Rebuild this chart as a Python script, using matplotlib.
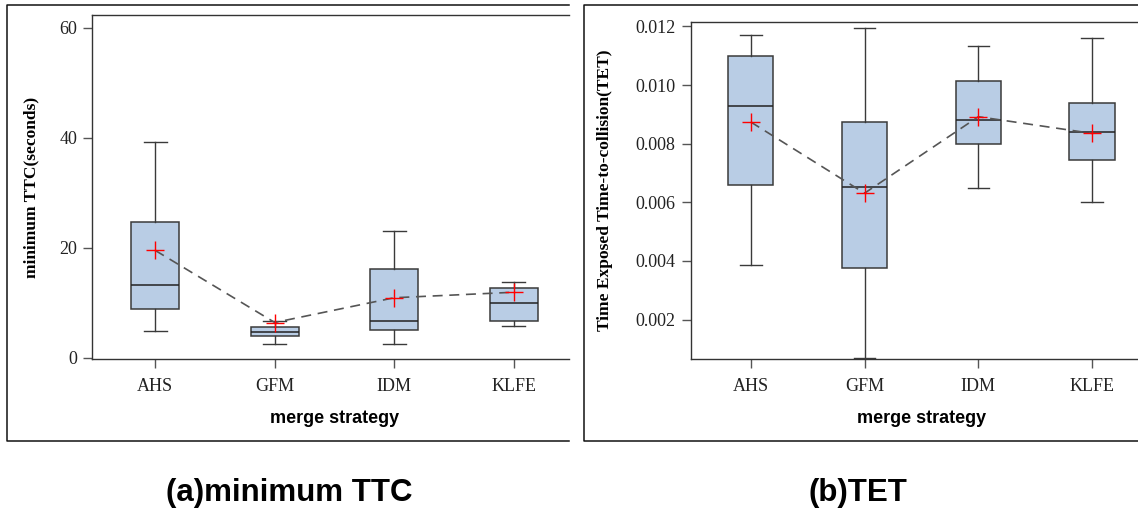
import matplotlib
matplotlib.use("Agg")
import matplotlib.pyplot as plt
from matplotlib.lines import Line2D

# categories and box statistics
strategies = ['AHS', 'GFM', 'IDM', 'KLFE']

ttc_low = [4.8, 2.5, 2.5, 5.8]
ttc_q1 = [8.8, 3.9, 5.0, 6.6]
ttc_med = [13.2, 4.6, 6.6, 9.9]
ttc_q3 = [24.6, 5.5, 16.2, 12.7]
ttc_high = [39.2, 6.7, 23.0, 13.8]
ttc_mean = [19.5, 6.4, 10.9, 11.9]

tet_low = [0.00386, 0.00070, 0.00649, 0.00602]
tet_q1 = [0.00659, 0.00375, 0.00798, 0.00744]
tet_med = [0.00928, 0.00652, 0.00880, 0.00841]
tet_q3 = [0.01100, 0.00875, 0.01015, 0.00940]
tet_high = [0.01169, 0.01193, 0.01132, 0.01160]
tet_mean = [0.00874, 0.00631, 0.00892, 0.00835]

W, H = 1138, 511
fig = plt.figure(figsize=(W / 100, H / 100), dpi=100)

serif = 'Liberation Serif'
sans = 'Liberation Sans'
box_face = '#B9CDE5'
dark = '#3a3a3a'


def make_stats(low, q1, med, q3, high):
    return [dict(whislo=a, q1=b, med=c, q3=d, whishi=e, fliers=[])
            for a, b, c, d, e in zip(low, q1, med, q3, high)]


def draw_panel(rect, stats, means, xlim, ylim, yticks, yfmt, ylabel,
               ylab_x, xlab_x, xlab_y):
    ax = fig.add_axes(rect)
    pos = list(range(1, len(strategies) + 1))
    ax.bxp(stats, positions=pos, widths=0.4, capwidths=0.19,
           patch_artist=True, manage_ticks=False,
           boxprops=dict(facecolor=box_face, edgecolor=dark, linewidth=1.1),
           medianprops=dict(color='#222222', linewidth=1.1),
           whiskerprops=dict(color=dark, linewidth=1.0),
           capprops=dict(color=dark, linewidth=1.0))
    ax.plot(pos, means, color='#555555', lw=1.2, dashes=(6, 4), zorder=4)
    ax.plot(pos, means, ls='none', marker='+', color='red', ms=13, mew=1.0,
            zorder=5)
    ax.set_xlim(*xlim)
    ax.set_ylim(*ylim)
    ax.set_xticks(pos)
    ax.set_xticklabels(strategies, family=serif, fontsize=13, color='#222222')
    ax.set_yticks(yticks)
    ax.set_yticklabels([yfmt.format(v) for v in yticks], family=serif,
                       fontsize=13, color='#222222')
    ax.tick_params(direction='out', length=6.5, width=1.0, color='#555555')
    ax.tick_params(axis='x', pad=7)
    ax.tick_params(axis='y', pad=4.5)
    ax.spines['right'].set_visible(False)
    for s in ['left', 'top', 'bottom']:
        ax.spines[s].set_color('#333333')
        ax.spines[s].set_linewidth(1.0)
    ax.set_ylabel(ylabel, family=serif, fontweight='bold', fontsize=12.5,
                  va='center')
    ax.yaxis.set_label_coords(ylab_x, 0.5)
    ax.set_xlabel('merge strategy', family=sans, fontweight='bold',
                  fontsize=13, va='center')
    ax.xaxis.set_label_coords(xlab_x, xlab_y)
    return ax


def px(x0, y0, x1, y1):
    # pixel box -> figure fraction rect
    return [x0 / W, 1 - y1 / H, (x1 - x0) / W, (y1 - y0) / H]


draw_panel(px(92.3, 15.3, 569, 359.3),
           make_stats(ttc_low, ttc_q1, ttc_med, ttc_q3, ttc_high), ttc_mean,
           (0.473, 4.463), (-0.29, 62.25), [0, 20, 40, 60], '{:.0f}',
           'minimum TTC(seconds)', -0.1286, 0.508, -0.1735)

draw_panel(px(691, 21.7, 1138, 359.3),
           make_stats(tet_low, tet_q1, tet_med, tet_q3, tet_high), tet_mean,
           (0.4754, 4.4025), (0.000645, 0.01216),
           [0.002, 0.004, 0.006, 0.008, 0.010, 0.012], '{:.3f}',
           'Time Exposed Time-to-collision(TET)', -0.1924, 0.5157, -0.1768)

# outer frames around each panel (right side cut off as in the source)
def frame(x0, x1, y0, y1):
    xs = [x1, x0, x0, x1]
    ys = [y0, y0, y1, y1]
    fig.add_artist(Line2D([x / W for x in xs], [1 - y / H for y in ys],
                          color='#111111', lw=1.1))


frame(7, 569, 5, 440.5)
frame(583.7, 1138, 5, 440.5)

fig.text(289.7 / W, 1 - 493 / H, '(a)minimum TTC', family=sans,
         fontweight='bold', fontsize=22.5, ha='center', va='center')
fig.text(857.5 / W, 1 - 493 / H, '(b)TET', family=sans,
         fontweight='bold', fontsize=22.5, ha='center', va='center')

fig.savefig('out.png', dpi=100)
